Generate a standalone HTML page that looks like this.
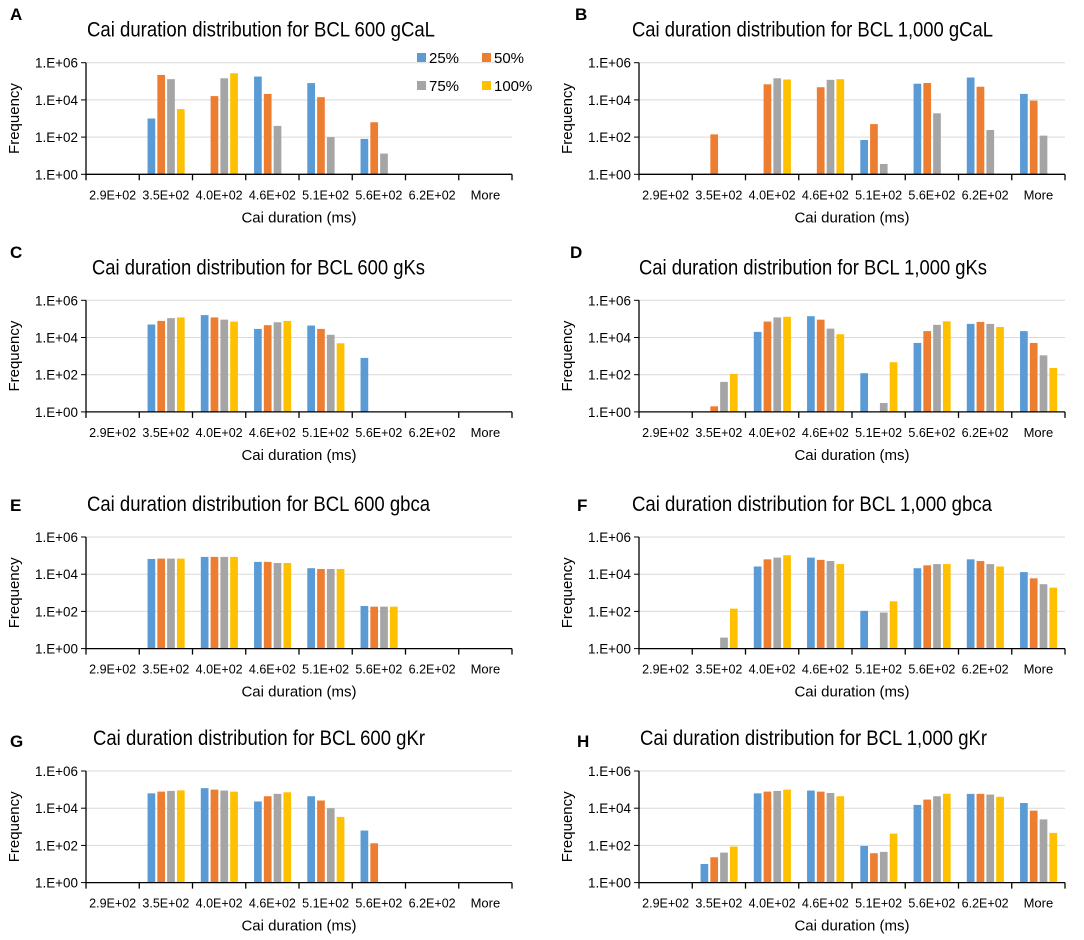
<!DOCTYPE html>
<html><head><meta charset="utf-8"><style>
html,body{margin:0;padding:0;background:#fff;}
svg{display:block;font-family:"Liberation Sans",Arial,sans-serif;}
</style></head><body>
<svg id="fig" width="1084" height="940" viewBox="0 0 1084 940" xmlns="http://www.w3.org/2000/svg"></svg>
<script>
// categories shared by all panels
const categories = ["2.9E+02","3.5E+02","4.0E+02","4.6E+02","5.1E+02","5.6E+02","6.2E+02","More"];
const seriesNames = ["25%","50%","75%","100%"];
const yTickLabels = ["1.E+00","1.E+02","1.E+04","1.E+06"];
const yTickValues = [1,100,10000,1000000];
// Panel A: BCL 600 gCaL
const A25 = [0,1000,0,180000,80000,80,0,0];
const A50 = [0,220000,16000,21000,14000,630,0,0];
const A75 = [0,130000,145000,400,100,13,0,0];
const A100 = [0,3200,270000,0,0,0,0,0];
// Panel B: BCL 1,000 gCaL
const B25 = [0,0,0,0,70,74000,160000,21000];
const B50 = [0,140,69000,48000,500,81000,51000,9100];
const B75 = [0,0,145000,120000,3.6,1900,240,120];
const B100 = [0,0,125000,130000,0,0,0,0];
// Panel C: BCL 600 gKs
const C25 = [0,50000,160000,29000,44000,800,0,0];
const C50 = [0,78000,120000,46000,29000,0,0,0];
const C75 = [0,110000,91000,66000,14000,0,0,0];
const C100 = [0,120000,72000,78000,4900,0,0,0];
// Panel D: BCL 1,000 gKs
const D25 = [0,0,20000,140000,120,5100,54000,22000];
const D50 = [0,2,72000,91000,0,22000,69000,5100];
const D75 = [0,41,120000,30000,3,48000,54000,1100];
const D100 = [0,110,130000,15000,470,74000,37000,230];
// Panel E: BCL 600 gbca
const E25 = [0,66000,85000,46000,21000,195,0,0];
const E50 = [0,69000,85000,46000,19000,180,0,0];
const E75 = [0,69000,85000,40000,19000,180,0,0];
const E100 = [0,69000,85000,40000,19000,180,0,0];
// Panel F: BCL 1,000 gbca
const F25 = [0,0,26000,78000,107,21000,63000,13000];
const F50 = [0,0,63000,59000,0,30000,51000,6000];
const F75 = [0,3.9,78000,51000,87,35000,35000,2900];
const F100 = [0,140,105000,35000,350,35000,26000,1900];
// Panel G: BCL 600 gKr
const G25 = [0,63000,120000,23000,44000,630,0,0];
const G50 = [0,78000,100000,44000,26000,130,0,0];
const G75 = [0,85000,89000,59000,10000,0,0,0];
const G100 = [0,91000,78000,72000,3400,0,0,0];
// Panel H: BCL 1,000 gKr
const H25 = [0,10,63000,89000,93,15000,59000,19000];
const H50 = [0,23,78000,78000,38,29000,59000,7400];
const H75 = [0,41,85000,66000,45,44000,54000,2500];
const H100 = [0,87,100000,44000,430,60000,41000,470];

const panelLetters = ["A","B","C","D","E","F","G","H"];
const panelTitles = ["Cai duration distribution for BCL 600 gCaL","Cai duration distribution for BCL 1,000 gCaL",
 "Cai duration distribution for BCL 600 gKs","Cai duration distribution for BCL 1,000 gKs",
 "Cai duration distribution for BCL 600 gbca","Cai duration distribution for BCL 1,000 gbca",
 "Cai duration distribution for BCL 600 gKr","Cai duration distribution for BCL 1,000 gKr"];
const panelSeries = [[A25,A50,A75,A100],[B25,B50,B75,B100],[C25,C50,C75,C100],[D25,D50,D75,D100],
 [E25,E50,E75,E100],[F25,F50,F75,F100],[G25,G50,G75,G100],[H25,H50,H75,H100]];

// layout (not data)
const colors = ["#5B9BD5","#ED7D31","#A5A5A5","#FFC000"];
const colX0 = [86,639], colX1 = [512,1065];
const rowTop = [62.7,300.3,537,771];
const plotH = 111.6;
const titleX = [87,632,92,639,87,632,93,640];
const titleW = [348,361,333,348,343,360,332,347];
const letterPos = [[10,20],[575,20],[10,258],[570,258],[10,511],[577,511],[10,747],[577,747]];

const NS = "http://www.w3.org/2000/svg";
const svg = document.getElementById("fig");
function mk(tag, attrs, parent, text){
  const e = document.createElementNS(NS, tag);
  for (const k in attrs) e.setAttribute(k, attrs[k]);
  if (text !== undefined) e.textContent = text;
  (parent||svg).appendChild(e);
  return e;
}

for (let p = 0; p < 8; p++){
  const col = p % 2, row = Math.floor(p/2);
  const x0 = colX0[col], x1 = colX1[col], top = rowTop[row], base = top + plotH;
  const g = mk("g", {}, svg);
  
  
  const yScale = v => v <= 1 ? base : base - Math.log10(v) / 6 * plotH;
  const catW = (x1 - x0) / categories.length;
  const xScale = i => x0 + i * catW;

  const lt = mk("text", {x:letterPos[p][0], y:letterPos[p][1], "font-size":17, "font-weight":"bold", fill:"#000"}, g, panelLetters[p]);
  
  
  const tt = mk("text", {x:titleX[p], y:top-26, "font-size":21, fill:"#000", textLength:titleW[p], lengthAdjust:"spacingAndGlyphs"}, g, panelTitles[p]);
  
  

  for (let t = 0; t < yTickValues.length; t++){
    const y = yScale(yTickValues[t]);
    if (t > 0){
      const gl = mk("line", {x1:x0, x2:x1, y1:y, y2:y, stroke:"#d9d9d9", "stroke-width":1}, g);
      
      
    }
    mk("line", {x1:x0-5, x2:x0, y1:y, y2:y, stroke:"#000", "stroke-width":1}, g);
    const yl = mk("text", {x:x0-8, y:y+5, "font-size":14, "text-anchor":"end", fill:"#000", textLength:43, lengthAdjust:"spacingAndGlyphs"}, g, yTickLabels[t]);
    
    
  }

  const barW = 7.7, step = 9.8, off = 8.3;
  for (let s = 0; s < 4; s++){
    const vals = panelSeries[p][s];
    for (let i = 0; i < categories.length; i++){
      const v = vals[i];
      if (!(v > 1)) continue;
      const y = yScale(v);
      const r = mk("rect", {x:xScale(i)+off+s*step, y:y, width:barW, height:base-y, fill:colors[s]}, g);
      
      
    }
  }

  const ya = mk("line", {x1:x0, x2:x0, y1:top, y2:base, stroke:"#000", "stroke-width":1.3}, g);
  
  
  const xa = mk("line", {x1:x0, x2:x1, y1:base, y2:base, stroke:"#000", "stroke-width":1.3}, g);
  
  
  for (let i = 0; i <= categories.length; i++){
    mk("line", {x1:xScale(i), x2:xScale(i), y1:base, y2:base+6, stroke:"#000", "stroke-width":1.3}, g);
  }
  for (let i = 0; i < categories.length; i++){
    const attrs = {x:xScale(i)+catW/2, y:base+25, "font-size":13, "text-anchor":"middle", fill:"#000"};
    if (categories[i] !== "More"){ attrs.textLength = 47; attrs.lengthAdjust = "spacingAndGlyphs"; }
    const xl = mk("text", attrs, g, categories[i]);
    
    
  }
  const xt = mk("text", {x:(x0+x1)/2, y:base+48, "font-size":15, "text-anchor":"middle", fill:"#000"}, g, "Cai duration (ms)");
  
  
  const fx = x0 - 67, fy = (top+base)/2;
  const ytt = mk("text", {x:fx, y:fy, "font-size":15, "text-anchor":"middle", fill:"#000", transform:"rotate(-90 "+fx+" "+fy+")"}, g, "Frequency");
  
  
}

const legendPos = [[417,53],[482,53],[417,81],[482,81]];
for (let s = 0; s < 4; s++){
  const lg = mk("g", {}, svg);
  
  
  mk("rect", {x:legendPos[s][0], y:legendPos[s][1], width:9, height:9, fill:colors[s]}, lg);
  mk("text", {x:legendPos[s][0]+12, y:legendPos[s][1]+10, "font-size":15, fill:"#000"}, lg, seriesNames[s]);
}
</script>
</body></html>
